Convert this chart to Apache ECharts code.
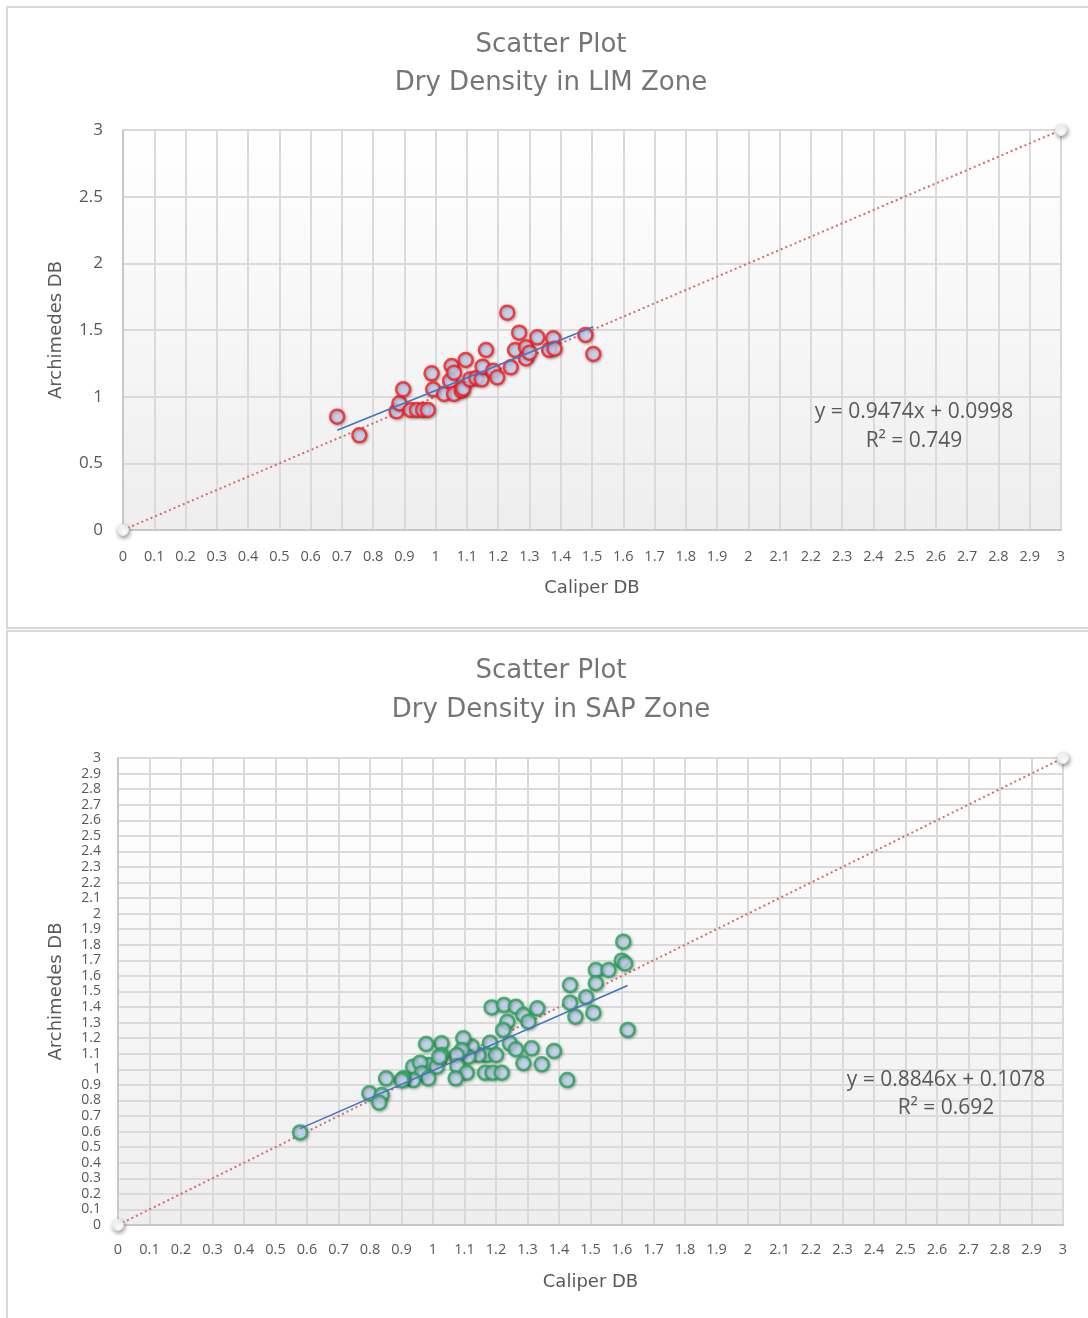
<!DOCTYPE html>
<html>
<head>
<meta charset="utf-8">
<script src="https://cdn.jsdelivr.net/npm/echarts@6/dist/echarts.min.js"></script>
<style>
html,body{margin:0;padding:0;background:#fff;}
#c{width:1088px;height:1318px;}
</style>
</head>
<body>
<div id="c"></div>
<script>
// ---- data ----
const limTitle = ['Scatter Plot', 'Dry Density in LIM Zone'];
const sapTitle = ['Scatter Plot', 'Dry Density in SAP Zone'];
const xAxisName = 'Caliper DB';
const yAxisName = 'Archimedes DB';

const limX = [0.685,0.756,0.875,0.884,0.896,0.92,0.94,0.96,0.975,0.987,0.992,1.027,1.046,1.051,1.059,1.059,1.083,1.088,1.096,1.11,1.13,1.147,1.15,1.161,1.184,1.197,1.229,1.24,1.254,1.267,1.289,1.289,1.30,1.325,1.363,1.376,1.38,1.479,1.504];
const limY = [0.85,0.71,0.89,0.95,1.055,0.90,0.90,0.90,0.90,1.175,1.055,1.02,1.119,1.23,1.18,1.02,1.045,1.062,1.275,1.13,1.14,1.13,1.225,1.35,1.195,1.145,1.63,1.22,1.35,1.48,1.37,1.287,1.33,1.445,1.35,1.438,1.36,1.463,1.32];

const sapX = [1.604,1.599,1.61,1.517,1.557,1.435,1.517,1.435,1.486,1.452,1.509,1.618,1.186,1.225,1.263,1.287,1.331,1.303,1.236,1.223,1.244,1.263,1.313,1.384,1.287,1.345,1.426,1.181,1.170,1.200,1.144,1.123,1.096,1.112,1.091,1.075,1.077,1.107,1.072,1.165,1.189,1.218,1.027,1.027,0.978,0.988,1.012,0.937,0.959,0.964,0.985,0.937,0.906,0.900,0.851,0.798,0.837,0.829,0.578,1.02];
const sapY = [1.82,1.698,1.68,1.638,1.638,1.542,1.553,1.428,1.463,1.338,1.364,1.253,1.398,1.413,1.402,1.349,1.392,1.306,1.306,1.253,1.167,1.129,1.135,1.118,1.039,1.032,0.931,1.171,1.092,1.092,1.092,1.146,1.199,1.081,1.124,1.092,1.021,0.978,0.942,0.978,0.978,0.978,1.167,1.092,1.163,1.028,1.017,1.017,1.043,0.975,0.942,0.931,0.942,0.93,0.942,0.846,0.835,0.786,0.595,1.08];

const limFit = {slope: 0.9474, intercept: 0.0998, r2: '0.749'};
const sapFit = {slope: 0.8846, intercept: 0.1078, r2: '0.692'};
const diag = [0, 3];

// ---- build ----
const FONT = '"Open Sans", "Noto Sans", sans-serif';
const WIDE = '"DejaVu Sans", sans-serif';
const TXT = '#595959';
function pts(xs, ys){ return xs.map((x,i)=>[x, ys[i]]); }
function fitLine(xs, fit){
  const lo = Math.min(...xs), hi = Math.max(...xs);
  return [[lo, fit.slope*lo+fit.intercept],[hi, fit.slope*hi+fit.intercept]];
}
function bg(){
  return new echarts.graphic.LinearGradient(0,0,0,1,[{offset:0,color:'#ffffff'},{offset:1,color:'#eeeeee'}]);
}
function xA(gi){
  return {gridIndex:gi, type:'value', min:0, max:3, interval:0.1,
    name:xAxisName, nameLocation:'middle', nameGap: gi===0?49:48,
    nameTextStyle:{color:TXT,fontSize:18,fontFamily:WIDE},
    axisLine:{show:true,lineStyle:{color:'#c8c8c8',width:2}},
    axisTick:{show:false},
    axisLabel:{color:TXT,fontSize:14.5,fontFamily:FONT,margin:gi===0?19:17},
    splitLine:{show:true,lineStyle:{color:'#dadada',width:2}}};
}
function yA(gi, interval){
  return {gridIndex:gi, type:'value', min:0, max:3, interval:interval,
    name:yAxisName, nameLocation:'middle', nameGap: gi===0?58:53, nameRotate:90,
    nameTextStyle:{color:TXT,fontSize:18,fontFamily:WIDE},
    axisLine:{show:true,lineStyle:{color:'#c8c8c8',width:2}},
    axisTick:{show:false},
    axisLabel:{color:TXT,fontSize:gi===0?17:14,fontFamily:FONT,margin:gi===0?20:17,lineHeight:14},
    splitLine:{show:true,lineStyle:{color:'#dadada',width:2}}};
}
function scatter(gi, data, border){
  return {type:'scatter', xAxisIndex:gi, yAxisIndex:gi, data:data, symbolSize:14, z:3,
    itemStyle:{color:'#c9d7f7', borderColor:border, borderWidth:2.5,
      shadowBlur:3, shadowColor:'rgba(0,0,0,0.35)', shadowOffsetX:1, shadowOffsetY:1}};
}
function trend(gi, data){
  return {type:'line', xAxisIndex:gi, yAxisIndex:gi, data:data, symbol:'none', z:4,
    lineStyle:{color:'#4472c4', width:1.6}};
}
function diagonal(gi){
  return {type:'line', xAxisIndex:gi, yAxisIndex:gi, data:diag.map(v=>[v,v]), z:2,
    symbol:'circle', symbolSize:11, showSymbol:true,
    itemStyle:{color:'#ffffff', borderColor:'#e8e8e8', borderWidth:1, shadowBlur:4, shadowColor:'rgba(0,0,0,0.4)', shadowOffsetX:1, shadowOffsetY:2},
    lineStyle:{color:'#d86a6a', width:2, type:[2,3]}};
}
function txt(x,y,t,size,font,color){
  return {type:'text', x:x, y:y, z:100, style:{text:t, fill:color||TXT, font:size+'px '+(font||FONT), align:'center', verticalAlign:'middle'}};
}

const chart = echarts.init(document.getElementById('c'), null, {renderer:'canvas'});
chart.setOption({
  animation:false,
  backgroundColor:'#ffffff',
  grid:[
    {left:123, top:130, width:938, height:400, show:true, backgroundColor:bg(), borderWidth:0},
    {left:118, top:758, width:945, height:467, show:true, backgroundColor:bg(), borderWidth:0}
  ],
  xAxis:[xA(0), xA(1)],
  yAxis:[yA(0,0.5), yA(1,0.1)],
  graphic:[
    {type:'rect', z:-1, shape:{x:7,y:7,width:1100,height:621}, style:{fill:'none',stroke:'#d9d9d9',lineWidth:2}},
    {type:'rect', z:-1, shape:{x:7,y:631,width:1100,height:700}, style:{fill:'none',stroke:'#d9d9d9',lineWidth:2}},
    txt(551,45,limTitle[0],26,WIDE,'#757575'), txt(551,83,limTitle[1],26,WIDE,'#757575'),
    txt(551,671,sapTitle[0],26,WIDE,'#757575'), txt(551,710,sapTitle[1],26,WIDE,'#757575'),
    txt(914,412,'y = '+limFit.slope+'x + '+limFit.intercept,21),
    txt(914,441,'R² = '+limFit.r2,21),
    txt(946,1080,'y = '+sapFit.slope+'x + '+sapFit.intercept,21),
    txt(946,1108,'R² = '+sapFit.r2,21)
  ],
  series:[
    diagonal(0), scatter(0, pts(limX,limY), '#ff1a1a'), trend(0, fitLine(limX, limFit)),
    diagonal(1), scatter(1, pts(sapX,sapY), '#22a855'), trend(1, fitLine(sapX, sapFit))
  ]
});
</script>
</body>
</html>
